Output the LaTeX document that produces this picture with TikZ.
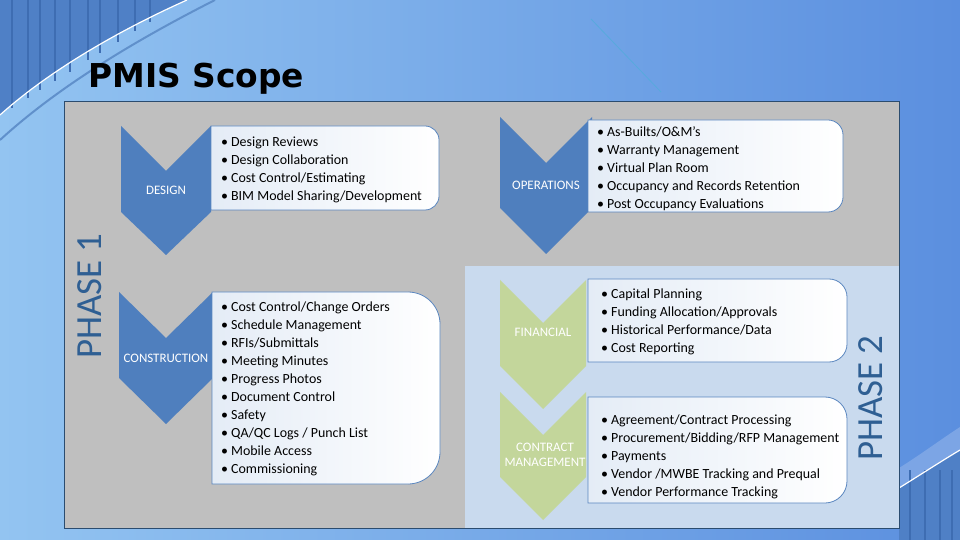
\documentclass[tikz,border=0pt]{standalone}
\usepackage{fontspec}
\setmainfont{Carlito}
\newfontfamily\titlefont{DejaVu Sans}
\definecolor{bgL}{HTML}{93C4F1}
\definecolor{bgM}{HTML}{7DB0EA}
\definecolor{bgR}{HTML}{5B8FDF}
\definecolor{bldg}{HTML}{4F80C6}
\definecolor{bldgline}{HTML}{3E6DB2}
\definecolor{panelgray}{HTML}{BFBFBF}
\definecolor{panelline}{HTML}{2B4C6F}
\definecolor{phasetwo}{HTML}{C9DAEE}
\definecolor{chevblue}{HTML}{4F7FBE}
\definecolor{chevgreen}{HTML}{C3D69B}
\definecolor{boxline}{HTML}{5A86BF}
\definecolor{boxfill}{HTML}{E4ECF6}
\definecolor{phasetext}{HTML}{2F5F93}
\newcommand\pmisbox[6]{% name x1 y1 x2 y2 r
  \draw[boxstyle] (#2,#3) -- ({#4-#6},#3) arc[start angle=90,end angle=0,radius=#6bp]
    -- (#4,{#5-#6}) arc[start angle=0,end angle=-90,radius=#6bp] -- (#2,#5) -- cycle;
  \coordinate (#1) at (#2,#3);}
\newcommand\itm{\textbullet\hspace{3bp}}
\begin{document}
\begin{tikzpicture}[x=1bp,y=-1bp,
  boxstyle/.style={draw=boxline,line width=0.8bp,left color=boxfill,right color=white},
  itemtext/.style={anchor=west,inner sep=0pt,align=left,font=\fontsize{14}{18}\selectfont,text=black},
  chevlabel/.style={inner sep=0pt,align=center,font=\fontsize{13}{15}\selectfont,text=white},
  phaselabel/.style={rotate=90,inner sep=0pt,font=\fontsize{37}{37}\selectfont,text=phasetext}]
\useasboundingbox (0,0) rectangle (960,540);
% background
\shade[left color=bgL,middle color=bgM,right color=bgR] (0,0) rectangle (960,540);
% top-left building corner
\fill[bldg] (0,0) -- (187,0) .. controls (120,30) and (50,70) .. (0,115) -- cycle;
\foreach \xx in {12,28,40,55,70,88,100,118,135,150} {\draw[bldgline,line width=1.2bp] (\xx,0) -- (\xx,{115-\xx*0.62});}
\draw[white,line width=1.2bp] (187,0) .. controls (120,30) and (50,70) .. (0,115);
\draw[bldgline!60!bgL,line width=2bp] (215,0) .. controls (140,38) and (60,85) .. (0,140);
% bottom-right building corner
\fill[bgR!80!white] (899,468) .. controls (920,455) and (940,440) .. (960,427) -- (960,540) -- (899,540) -- cycle;
\fill[bldg] (899,488) .. controls (920,475) and (940,462) .. (960,450) -- (960,540) -- (899,540) -- cycle;
\foreach \xx in {910,925,940,952} {\draw[bldgline,line width=1.2bp] (\xx,470) -- (\xx,540);}
\draw[white,line width=1.2bp] (899,488) .. controls (920,475) and (940,462) .. (960,450);
% thin diagonal
\draw[cyan!40!bgM,line width=0.8bp] (591,19) -- (661,92);
% title
\node[anchor=base west,inner sep=0pt] (title) at (88,88)
  {\titlefont\bfseries\fontsize{33}{33}\selectfont PMIS Scope};
% panels
\fill[panelgray] (64,102) rectangle (899,528);
\fill[phasetwo] (465,266) rectangle (899,528);
\draw[panelline,line width=1bp] (64,102) rectangle (899,528);
% phase labels
\node[phaselabel] (ph1) at (90,296) {PHASE 1};
\node[phaselabel] (ph2) at (871,398) {PHASE 2};
% DESIGN
\fill[chevblue] (121,126) -- (166,171) -- (211,126) -- (211,212) -- (166,255) -- (121,212) -- cycle;
\pmisbox{designbox}{211}{126}{439}{210}{14}
\node[chevlabel] (design) at (166,190) {DESIGN};
\node[itemtext] (designitems) at (221,170) {\itm Design Reviews\\
\itm Design Collaboration\\
\itm Cost Control/Estimating\\
\itm BIM Model Sharing/Development};
% OPERATIONS
\fill[chevblue] (500,117) -- (546,163) -- (592,117) -- (592,208) -- (546,254) -- (500,208) -- cycle;
\pmisbox{opsbox}{588}{120}{843}{212}{15}
\node[chevlabel] (ops) at (546,185) {OPERATIONS};
\node[itemtext] (opsitems) at (597,169) {\itm As-Builts/O\&M’s\\
\itm Warranty Management\\
\itm Virtual Plan Room\\
\itm Occupancy and Records Retention\\
\itm Post Occupancy Evaluations};
% CONSTRUCTION
\fill[chevblue] (119,292) -- (166,338) -- (213,292) -- (213,378) -- (166,424) -- (119,378) -- cycle;
\pmisbox{consbox}{212}{292}{440}{484}{32}
\node[chevlabel] (cons) at (166,358) {CONSTRUCTION};
\node[itemtext] (consitems) at (221,389) {\itm Cost Control/Change Orders\\
\itm Schedule Management\\
\itm RFIs/Submittals\\
\itm Meeting Minutes\\
\itm Progress Photos\\
\itm Document Control\\
\itm Safety\\
\itm QA/QC Logs / Punch List\\
\itm Mobile Access\\
\itm Commissioning};
% FINANCIAL
\fill[chevgreen] (500,280) -- (543,323) -- (586,280) -- (586,366) -- (543,409) -- (500,366) -- cycle;
\pmisbox{finbox}{588}{279}{847}{362}{18}
\node[chevlabel] (fin) at (543,332) {FINANCIAL};
\node[itemtext] (finitems) at (601,322) {\itm Capital Planning\\
\itm Funding Allocation/Approvals\\
\itm Historical Performance/Data\\
\itm Cost Reporting};
% CONTRACT MANAGEMENT
\fill[chevgreen] (500,392) -- (543,435) -- (586,392) -- (586,477) -- (543,520) -- (500,477) -- cycle;
\pmisbox{conbox}{588}{397}{847}{503}{22}
\node[chevlabel] (con) at (545,455) {CONTRACT\\MANAGEMENT};
\node[itemtext] (conitems) at (601,457) {\itm Agreement/Contract Processing\\
\itm Procurement/Bidding/RFP Management\\
\itm Payments\\
\itm Vendor /MWBE Tracking and Prequal\\
\itm Vendor Performance Tracking};
\end{tikzpicture}
\end{document}
